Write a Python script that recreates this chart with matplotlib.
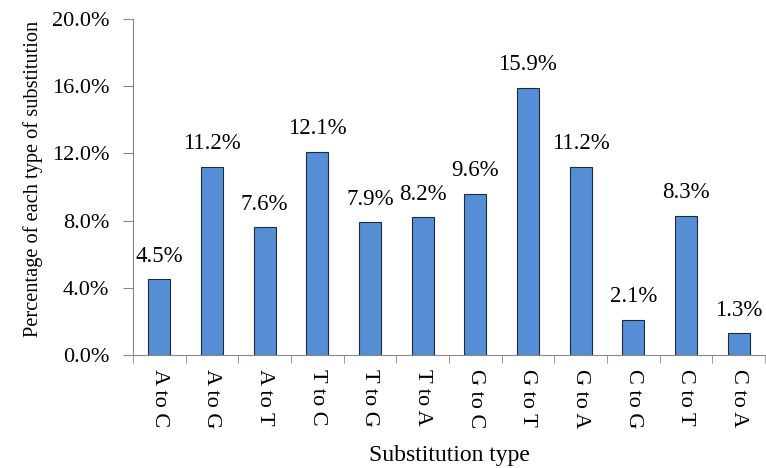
import numpy as np
import matplotlib.pyplot as plt
from matplotlib.ticker import FuncFormatter

categories = ["A to C", "A to G", "A to T", "T to C", "T to G", "T to A",
              "G to C", "G to T", "G to A", "C to G", "C to T", "C to A"]
values = [4.5, 11.2, 7.6, 12.1, 7.9, 8.2, 9.6, 15.9, 11.2, 2.1, 8.3, 1.3]

plt.rcParams['font.family'] = ['Liberation Serif', 'DejaVu Serif']

fig = plt.figure(figsize=(7.66, 4.68), dpi=100)
ax = fig.add_axes([0.1736, 0.2415, 0.825, 0.718])

x = np.arange(len(categories))
ax.bar(x, values, width=0.42, color="#558ED5", edgecolor="#1f2a3a", linewidth=0.8)
for xi, v in zip(x, values):
    ax.text(xi, v + 0.75, "%.1f%%" % v, ha="center", va="bottom", fontsize=16.5)

ax.set_xlim(-0.5, len(categories) - 0.5)
ax.set_ylim(0, 20)
ax.set_yticks(np.arange(0, 20.1, 4))
ax.yaxis.set_major_formatter(FuncFormatter(lambda v, p: "%.1f%%" % v))

ax.set_xticks(x)
ax.set_xticklabels(categories, rotation=-90, fontsize=16)
ax.set_xticks(np.arange(-0.5, len(categories)), minor=True)
ax.tick_params(axis="x", which="major", length=0, pad=10)
ax.tick_params(axis="x", which="minor", length=6, color="#888888")
ax.tick_params(axis="y", length=7, color="#888888", labelsize=16, pad=10)

for s in ["top", "right"]:
    ax.spines[s].set_visible(False)
for s in ["left", "bottom"]:
    ax.spines[s].set_color("#888888")

ax.set_xlabel("Substitution type", fontsize=17, labelpad=12)
ax.set_ylabel("Percentage of each type of substitution", fontsize=14.7)
ax.yaxis.set_label_coords(-0.142, 0.524)

fig.savefig("out.png", dpi=100)
